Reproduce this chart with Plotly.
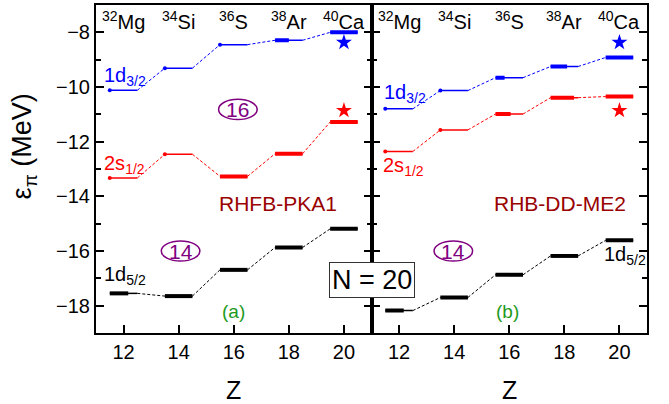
import plotly.graph_objects as go

# ---------------- data ----------------
Z = [12, 14, 16, 18, 20]
nuclei = ["<sup>32</sup>Mg", "<sup>34</sup>Si", "<sup>36</sup>S", "<sup>38</sup>Ar", "<sup>40</sup>Ca"]

# RHFB-PKA1 (panel a)
pka1_d32 = [-10.12, -9.31, -8.45, -8.29, -8.00]
pka1_s12 = [-13.33, -12.46, -13.27, -12.44, -11.28]
pka1_d52 = [-17.55, -17.65, -16.69, -15.87, -15.19]
pka1_occ_d32 = [0, 0, 0, 0.5, 1]
pka1_occ_s12 = [0, 0, 1, 1, 1]
pka1_occ_d52 = [0.67, 1, 1, 1, 1]

# RHB-DD-ME2 (panel b)
ddme2_d32 = [-10.80, -10.13, -9.66, -9.25, -8.92]
ddme2_s12 = [-12.36, -11.57, -10.99, -10.39, -10.35]
ddme2_d52 = [-18.18, -17.70, -16.87, -16.18, -15.61]
ddme2_occ_d32 = [0, 0, 0.33, 0.6, 1]
ddme2_occ_s12 = [0, 0, 0.55, 0.85, 1]
ddme2_occ_d52 = [0.67, 1, 1, 1, 1]

# experimental values for 40Ca (stars)
exp_Z = [20]
exp_d32 = [-8.37]
exp_s12 = [-10.86]

BLUE = "#0000FF"
RED = "#FF0000"
BLACK = "#000000"
PURPLE = "#800080"
DARKRED = "#990000"
GREEN = "#1E9A1E"
FONT = "Arial, Liberation Sans, sans-serif"
HW = 0.5  # half width of a level bar (in Z units)

fig = go.Figure()


def add_levels(energies, occ, color, xa, ya):
    tx, ty, kx, ky, cx, cy, dx, dy = [], [], [], [], [], [], [], []
    for i, (z, e, o) in enumerate(zip(Z, energies, occ)):
        tx += [z - HW, z + HW, None]
        ty += [e, e, None]
        if o > 0:
            kx += [z - HW, z - HW + 2 * HW * o, None]
            ky += [e, e, None]
        else:
            dx.append(z - HW)
            dy.append(e)
        if i < len(Z) - 1:
            cx += [z + HW, Z[i + 1] - HW, None]
            cy += [e, energies[i + 1], None]
    common = dict(xaxis=xa, yaxis=ya, showlegend=False, hoverinfo="skip")
    fig.add_trace(go.Scatter(x=cx, y=cy, mode="lines",
                             line=dict(color=color, width=1, dash="3px,2px"), **common))
    fig.add_trace(go.Scatter(x=tx, y=ty, mode="lines",
                             line=dict(color=color, width=1.5), **common))
    if kx:
        fig.add_trace(go.Scatter(x=kx, y=ky, mode="lines",
                                 line=dict(color=color, width=4), **common))
    if dx:
        fig.add_trace(go.Scatter(x=dx, y=dy, mode="markers",
                                 marker=dict(color=color, size=4), **common))


for xa, ya, d32, s12, d52, o32, o12, o52 in [
    ("x", "y", pka1_d32, pka1_s12, pka1_d52, pka1_occ_d32, pka1_occ_s12, pka1_occ_d52),
    ("x2", "y2", ddme2_d32, ddme2_s12, ddme2_d52, ddme2_occ_d32, ddme2_occ_s12, ddme2_occ_d52),
]:
    add_levels(d32, o32, BLUE, xa, ya)
    add_levels(s12, o12, RED, xa, ya)
    add_levels(d52, o52, BLACK, xa, ya)
    fig.add_trace(go.Scatter(x=exp_Z, y=exp_d32, mode="markers", xaxis=xa, yaxis=ya,
                             marker=dict(symbol="star", color=BLUE, size=12, line=dict(width=0)),
                             showlegend=False, hoverinfo="skip"))
    fig.add_trace(go.Scatter(x=exp_Z, y=exp_s12, mode="markers", xaxis=xa, yaxis=ya,
                             marker=dict(symbol="star", color=RED, size=12, line=dict(width=0)),
                             showlegend=False, hoverinfo="skip"))

axis_common = dict(showline=True, linecolor="black", linewidth=2, ticks="inside",
                   tickcolor="black", tickwidth=2, showgrid=False, zeroline=False,
                   tickfont=dict(family=FONT, size=20, color="black"))
xcommon = dict(axis_common, range=[11, 21], tickvals=[12, 14, 16, 18, 20], ticklen=8, mirror=True)
ycommon = dict(axis_common, range=[-19, -7], dtick=2, tick0=-8, ticklen=8, mirror="ticks",
               minor=dict(ticks="inside", ticklen=5, dtick=1, tick0=-7, tickcolor="black", tickwidth=2))

fig.update_layout(
    width=669, height=404,
    margin=dict(l=96, r=22, t=3, b=71),
    plot_bgcolor="white", paper_bgcolor="white",
    xaxis=dict(xcommon, domain=[0, 0.5], anchor="y"),
    yaxis=dict(ycommon, anchor="x"),
    xaxis2=dict(xcommon, domain=[0.5, 1], anchor="y2"),
    yaxis2=dict(ycommon, anchor="x2", matches="y", showticklabels=False),
)

ann = []
shapes = []
for xr, yr in [("x", "y"), ("x2", "y2")]:
    for z, name in zip(Z, nuclei):
        ann.append(dict(x=z, y=-7.58, xref=xr, yref=yr, text=name, showarrow=False,
                        xanchor="center", yanchor="middle",
                        font=dict(family=FONT, size=20, color="black")))
    ann.append(dict(x=16, y=-0.173, xref=xr, yref="paper", text="Z", showarrow=False,
                    xanchor="center", yanchor="middle",
                    font=dict(family=FONT, size=25, color="black")))

# level labels
lab = [
    ("x", "y", 11.23, -9.62, "1d<sub>3/2</sub>", BLUE),
    ("x", "y", 11.23, -12.82, "2s<sub>1/2</sub>", RED),
    ("x", "y", 11.23, -16.88, "1d<sub>5/2</sub>", BLACK),
    ("x2", "y2", 11.38, -10.25, "1d<sub>3/2</sub>", BLUE),
    ("x2", "y2", 11.35, -12.9, "2s<sub>1/2</sub>", RED),
    ("x2", "y2", 19.36, -16.17, "1d<sub>5/2</sub>", BLACK),
]
for xr, yr, x, y, t, c in lab:
    ann.append(dict(x=x, y=y, xref=xr, yref=yr, text=t, showarrow=False, xanchor="left",
                    yanchor="middle", font=dict(family=FONT, size=20, color=c)))

# circled shell-gap numbers
circ = [("x", "y", 16.15, -10.82, "16"), ("x", "y", 14.07, -16.0, "14"), ("x2", "y2", 13.97, -16.0, "14")]
for xr, yr, x, y, t in circ:
    shapes.append(dict(type="circle", xref=xr, yref=yr, x0=x - 0.7, x1=x + 0.7,
                       y0=y - 0.37, y1=y + 0.37, line=dict(color=PURPLE, width=1.5)))
    ann.append(dict(x=x, y=y, xref=xr, yref=yr, text=t, showarrow=False,
                    xanchor="center", yanchor="middle",
                    font=dict(family=FONT, size=21, color=PURPLE)))

ann.append(dict(x=17.61, y=-14.25, xref="x", yref="y", text="RHFB-PKA1", showarrow=False,
                xanchor="center", yanchor="middle",
                font=dict(family=FONT, size=21, color=DARKRED)))
ann.append(dict(x=17.83, y=-14.25, xref="x2", yref="y2", text="RHB-DD-ME2", showarrow=False,
                xanchor="center", yanchor="middle",
                font=dict(family=FONT, size=21, color=DARKRED)))
ann.append(dict(x=16, y=-18.22, xref="x", yref="y", text="(a)", showarrow=False,
                xanchor="center", yanchor="middle",
                font=dict(family=FONT, size=19, color=GREEN)))
ann.append(dict(x=15.95, y=-18.22, xref="x2", yref="y2", text="(b)", showarrow=False,
                xanchor="center", yanchor="middle",
                font=dict(family=FONT, size=19, color=GREEN)))
ann.append(dict(x=0.501, y=0.162, xref="paper", yref="paper", text="N = 20", showarrow=False,
                xanchor="center", yanchor="middle",
                font=dict(family=FONT, size=27, color="black"), bgcolor="white",
                bordercolor="#333333", borderwidth=1, borderpad=2))
ann.append(dict(x=-0.13, y=0.57, xref="paper", yref="paper", text="ε<sub>π</sub> (MeV)",
                xanchor="center", yanchor="middle",
                showarrow=False, textangle=-90, font=dict(family=FONT, size=27, color="black")))

fig.update_layout(annotations=ann, shapes=shapes)
fig.write_html("out.html")
